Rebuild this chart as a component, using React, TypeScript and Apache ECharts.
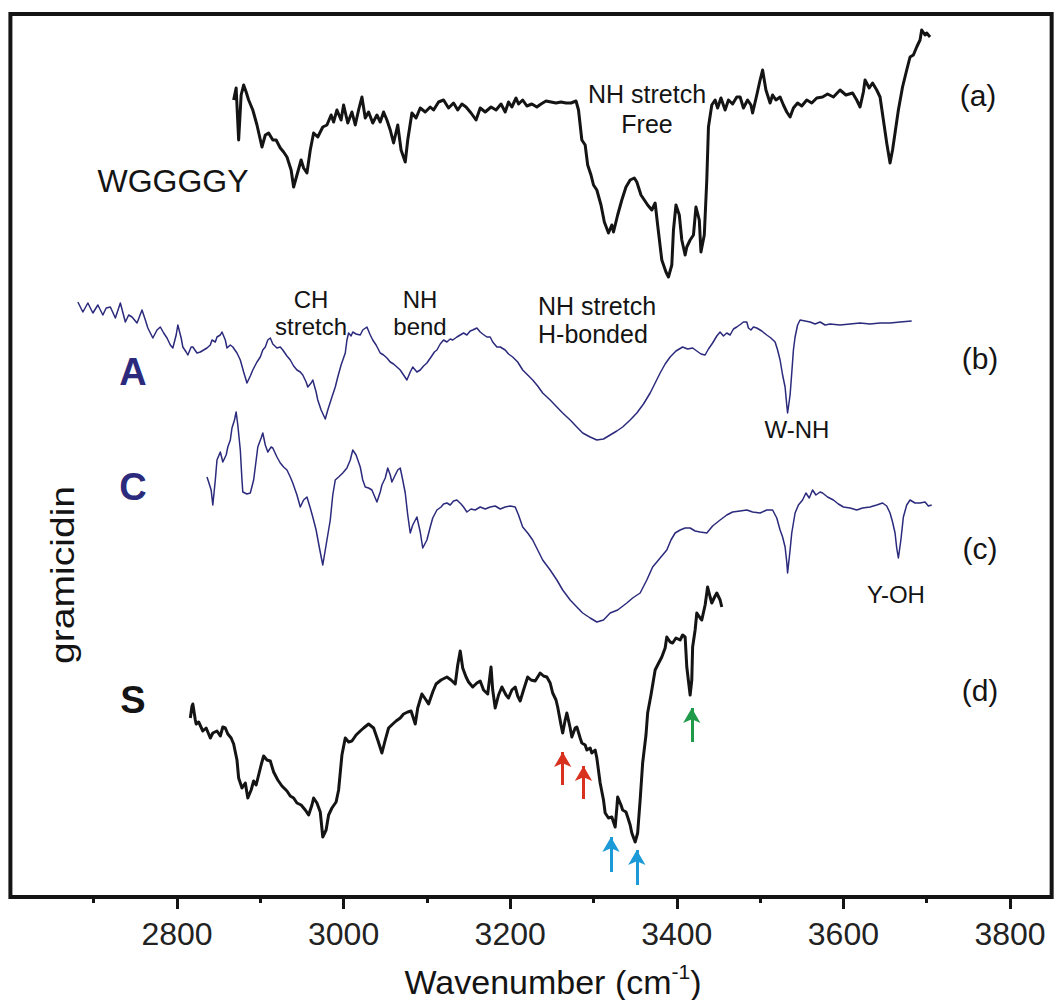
import React, { useEffect, useRef } from "react";
import * as echarts from "echarts";

// Wavenumber tick values (cm^-1)
const majorTicks = [2800, 3000, 3200, 3400, 3600, 3800];
const minorTicks = [2700, 2900, 3100, 3300, 3500, 3700];

// Spectra: [wavenumber, offset intensity (arb. units)]
const specA: [number, number][] = [
  [2868, 797], [2871, 809], [2874, 757], [2877, 802], [2880, 812], [2883, 805], [2886, 797], [2891, 787],
  [2896, 772], [2902, 750], [2906, 762], [2910, 764], [2915, 757], [2919, 757], [2924, 749], [2928, 745],
  [2932, 740], [2937, 727], [2940, 710], [2944, 722], [2949, 737], [2952, 729], [2956, 724], [2960, 747],
  [2964, 764], [2969, 760], [2975, 770], [2980, 772], [2985, 782], [2988, 775], [2992, 787], [2997, 777],
  [3000, 792], [3005, 774], [3010, 785], [3014, 772], [3018, 787], [3022, 800], [3026, 779], [3030, 785],
  [3035, 774], [3040, 782], [3044, 775], [3048, 785], [3052, 777], [3056, 767], [3060, 754], [3065, 772],
  [3069, 747], [3074, 735], [3077, 757], [3082, 784], [3087, 779], [3092, 789], [3098, 785], [3104, 790],
  [3108, 787], [3114, 795], [3120, 797], [3126, 789], [3132, 794], [3137, 787], [3142, 793], [3147, 790],
  [3153, 784], [3159, 777], [3164, 789], [3170, 785], [3177, 790], [3183, 787], [3189, 793], [3194, 785],
  [3198, 795], [3202, 790], [3207, 799], [3210, 793], [3215, 797], [3220, 791], [3226, 793], [3232, 790],
  [3237, 793], [3243, 796], [3249, 795], [3255, 794], [3261, 795], [3267, 794], [3273, 794], [3279, 796],
  [3282, 787], [3286, 757], [3290, 752], [3293, 732], [3297, 722], [3300, 712], [3304, 707], [3309, 692],
  [3313, 675], [3318, 664], [3322, 672], [3324, 665], [3329, 682], [3334, 697], [3339, 710], [3344, 717],
  [3349, 719], [3352, 715], [3357, 702], [3361, 697], [3365, 692], [3370, 687], [3374, 694], [3377, 672],
  [3382, 637], [3387, 625], [3390, 620], [3394, 632], [3396, 667], [3399, 692], [3403, 682], [3406, 657],
  [3410, 642], [3412, 650], [3416, 657], [3420, 662], [3423, 690], [3427, 677], [3429, 645], [3433, 662],
  [3436, 717], [3438, 770], [3442, 792], [3446, 797], [3449, 789], [3453, 799], [3458, 787], [3462, 797],
  [3467, 793], [3472, 800], [3476, 800], [3480, 789], [3485, 797], [3489, 792], [3491, 784], [3496, 802],
  [3500, 817], [3503, 827], [3507, 807], [3512, 794], [3515, 802], [3519, 797], [3524, 800], [3528, 792],
  [3532, 785], [3536, 780], [3540, 789], [3545, 794], [3550, 791], [3556, 797], [3562, 794], [3568, 799],
  [3575, 800], [3581, 803], [3588, 800], [3596, 807], [3603, 802], [3611, 804], [3616, 797], [3620, 790],
  [3624, 805], [3626, 817], [3631, 809], [3635, 814], [3640, 807], [3644, 800], [3648, 777], [3652, 754],
  [3656, 734], [3659, 747], [3662, 764], [3666, 787], [3671, 810], [3676, 827], [3680, 840], [3684, 842],
  [3688, 850], [3692, 857], [3694, 867], [3698, 862], [3700, 864], [3704, 860],
];

const specB: [number, number][] = [
  [2681, 595], [2687, 585], [2693, 594], [2699, 584], [2705, 592], [2711, 582], [2715, 589], [2720, 590],
  [2726, 579], [2732, 594], [2738, 575], [2742, 582], [2746, 580], [2752, 574], [2758, 587], [2762, 577],
  [2765, 569], [2771, 559], [2776, 567], [2780, 570], [2784, 564], [2788, 559], [2792, 552], [2795, 549],
  [2799, 562], [2801, 572], [2805, 559], [2807, 550], [2811, 545], [2813, 542], [2817, 550], [2819, 550],
  [2824, 544], [2828, 545], [2832, 547], [2836, 549], [2840, 552], [2842, 557], [2846, 555], [2848, 560],
  [2852, 562], [2854, 565], [2858, 557], [2860, 549], [2864, 552], [2867, 550], [2872, 544], [2876, 537],
  [2880, 525], [2884, 514], [2888, 521], [2891, 527], [2896, 535], [2900, 540], [2903, 547], [2906, 550],
  [2909, 557], [2912, 559], [2915, 553], [2920, 549], [2924, 550], [2927, 547], [2932, 541], [2936, 537],
  [2940, 531], [2944, 527], [2948, 525], [2951, 522], [2955, 515], [2957, 510], [2961, 514], [2963, 517],
  [2967, 505], [2969, 497], [2973, 487], [2978, 478], [2981, 487], [2986, 500], [2990, 510], [2993, 520],
  [2997, 532], [3002, 544], [3004, 557], [3006, 564], [3009, 561], [3011, 565], [3015, 563], [3020, 562],
  [3023, 567], [3028, 570], [3032, 562], [3035, 557], [3039, 552], [3044, 544], [3048, 542], [3052, 539],
  [3056, 535], [3060, 533], [3064, 530], [3068, 527], [3072, 522], [3076, 517], [3080, 525], [3083, 530],
  [3088, 525], [3092, 527], [3096, 531], [3100, 534], [3105, 540], [3109, 545], [3112, 547], [3116, 553],
  [3120, 557], [3124, 555], [3128, 558], [3131, 557], [3136, 560], [3140, 562], [3144, 564], [3148, 562],
  [3152, 566], [3155, 567], [3160, 569], [3164, 565], [3167, 563], [3172, 560], [3176, 560], [3179, 555],
  [3184, 550], [3188, 550], [3194, 547], [3198, 543], [3203, 540], [3209, 535], [3215, 527], [3221, 522],
  [3227, 517], [3233, 511], [3239, 504], [3248, 497], [3256, 490], [3263, 484], [3272, 477], [3280, 470],
  [3287, 464], [3296, 460], [3304, 457], [3312, 458], [3320, 462], [3328, 466], [3335, 470], [3344, 477],
  [3352, 484], [3360, 493], [3368, 504], [3374, 514], [3380, 524], [3386, 533], [3392, 540], [3399, 546],
  [3407, 550], [3413, 548], [3419, 549], [3424, 546], [3429, 543], [3434, 542], [3438, 548], [3443, 554],
  [3448, 561], [3452, 565], [3456, 561], [3460, 564], [3464, 562], [3468, 568], [3472, 570], [3477, 573],
  [3480, 575], [3484, 575], [3486, 569], [3489, 567], [3492, 570], [3496, 569], [3502, 566], [3508, 562],
  [3513, 559], [3518, 555], [3521, 547], [3524, 537], [3527, 522], [3530, 510], [3532, 492], [3533, 484],
  [3536, 502], [3538, 524], [3540, 547], [3542, 560], [3545, 572], [3548, 577], [3554, 576], [3560, 575],
  [3566, 573], [3572, 575], [3578, 572], [3584, 573], [3596, 572], [3608, 573], [3620, 574], [3632, 573],
  [3644, 574], [3656, 574], [3668, 575], [3682, 576],
];

const specC: [number, number][] = [
  [2836, 420], [2838, 415], [2841, 407], [2843, 392], [2846, 417], [2848, 437], [2852, 445], [2855, 435],
  [2859, 442], [2861, 450], [2864, 457], [2866, 469], [2869, 477], [2871, 485], [2873, 472], [2876, 447],
  [2878, 417], [2879, 405], [2884, 403], [2888, 404], [2892, 417], [2894, 430], [2897, 450], [2901, 459],
  [2903, 464], [2906, 452], [2909, 445], [2913, 450], [2915, 449], [2920, 440], [2924, 434], [2928, 430],
  [2932, 427], [2936, 420], [2939, 414], [2944, 402], [2948, 390], [2952, 397], [2956, 400], [2960, 389],
  [2963, 380], [2967, 367], [2971, 349], [2975, 332], [2979, 352], [2984, 377], [2987, 402], [2990, 417],
  [2994, 420], [2999, 424], [3004, 429], [3008, 437], [3011, 447], [3015, 442], [3020, 430], [3023, 417],
  [3026, 410], [3030, 409], [3034, 407], [3038, 399], [3040, 395], [3044, 405], [3046, 412], [3050, 419],
  [3053, 429], [3056, 422], [3058, 415], [3062, 422], [3065, 427], [3068, 429], [3071, 417], [3074, 404],
  [3077, 382], [3080, 364], [3083, 372], [3088, 380], [3092, 365], [3095, 349], [3100, 357], [3104, 370],
  [3107, 379], [3112, 387], [3117, 390], [3120, 393], [3124, 394], [3128, 392], [3132, 396], [3136, 397],
  [3141, 393], [3144, 390], [3148, 385], [3153, 388], [3158, 387], [3164, 390], [3170, 388], [3176, 390],
  [3182, 391], [3188, 388], [3194, 390], [3200, 391], [3206, 390], [3210, 382], [3215, 370], [3221, 364],
  [3227, 357], [3233, 347], [3239, 337], [3248, 327], [3256, 317], [3263, 307], [3272, 297], [3280, 290],
  [3287, 284], [3296, 279], [3304, 275], [3312, 277], [3320, 284], [3329, 287], [3340, 294], [3347, 299],
  [3356, 304], [3364, 317], [3371, 330], [3380, 339], [3388, 347], [3393, 357], [3398, 364], [3404, 367],
  [3410, 369], [3416, 369], [3422, 366], [3428, 365], [3436, 364], [3443, 371], [3452, 377], [3460, 382],
  [3467, 385], [3476, 386], [3484, 387], [3491, 385], [3500, 384], [3508, 387], [3515, 387], [3520, 379],
  [3524, 367], [3527, 360], [3530, 350], [3532, 335], [3533, 324], [3536, 347], [3538, 364], [3542, 384],
  [3546, 392], [3551, 397], [3555, 404], [3559, 399], [3563, 407], [3567, 402], [3572, 405], [3575, 404],
  [3581, 400], [3588, 397], [3594, 393], [3600, 390], [3608, 389], [3616, 387], [3623, 389], [3632, 390],
  [3640, 392], [3647, 394], [3652, 391], [3656, 384], [3659, 375], [3662, 364], [3664, 349], [3666, 339],
  [3669, 357], [3672, 380], [3676, 392], [3680, 397], [3686, 394], [3692, 394], [3698, 395], [3702, 391],
  [3706, 392],
];

const specD: [number, number][] = [
  [2816, 179], [2818, 191], [2819, 193], [2822, 177], [2823, 173], [2826, 175], [2831, 166], [2835, 169],
  [2840, 159], [2843, 164], [2848, 166], [2852, 161], [2855, 170], [2858, 169], [2861, 163], [2865, 159],
  [2868, 153], [2872, 137], [2874, 119], [2878, 109], [2882, 114], [2885, 99], [2889, 107], [2892, 116],
  [2895, 112], [2898, 122], [2901, 132], [2904, 141], [2908, 137], [2912, 136], [2916, 125], [2921, 117],
  [2926, 111], [2932, 106], [2936, 101], [2940, 99], [2944, 94], [2949, 92], [2954, 87], [2958, 82],
  [2962, 92], [2964, 99], [2968, 94], [2972, 85], [2975, 60], [2979, 67], [2982, 82], [2986, 89],
  [2991, 95], [2994, 107], [2998, 142], [3002, 159], [3006, 155], [3010, 156], [3015, 162], [3020, 166],
  [3024, 169], [3030, 173], [3036, 169], [3041, 157], [3046, 144], [3050, 157], [3054, 169], [3059, 173],
  [3063, 176], [3068, 179], [3072, 183], [3077, 185], [3081, 186], [3086, 173], [3089, 189], [3094, 203],
  [3099, 197], [3102, 193], [3107, 205], [3111, 213], [3117, 217], [3124, 220], [3129, 217], [3134, 213],
  [3137, 232], [3140, 246], [3143, 229], [3147, 220], [3150, 215], [3155, 210], [3160, 214], [3164, 216],
  [3168, 207], [3173, 203], [3177, 230], [3179, 207], [3182, 189], [3186, 202], [3190, 210], [3195, 202],
  [3198, 199], [3202, 207], [3206, 210], [3209, 201], [3212, 196], [3216, 207], [3221, 220], [3225, 217],
  [3230, 216], [3236, 224], [3240, 221], [3244, 220], [3248, 214], [3251, 204], [3255, 197], [3257, 190],
  [3261, 172], [3263, 164], [3266, 177], [3268, 184], [3272, 169], [3274, 160], [3278, 169], [3280, 170],
  [3284, 159], [3286, 154], [3290, 152], [3292, 147], [3296, 149], [3298, 144], [3302, 147], [3304, 139],
  [3308, 114], [3312, 97], [3314, 84], [3318, 79], [3322, 80], [3326, 70], [3328, 89], [3329, 100],
  [3333, 92], [3335, 87], [3339, 85], [3341, 80], [3344, 72], [3346, 64], [3350, 55], [3353, 64],
  [3356, 97], [3359, 134], [3363, 162], [3365, 184], [3369, 202], [3374, 227], [3377, 232], [3382, 240],
  [3386, 249], [3388, 260], [3392, 255], [3395, 254], [3399, 259], [3404, 257], [3407, 262], [3410, 260],
  [3412, 230], [3416, 202], [3418, 217], [3419, 250], [3422, 267], [3424, 284], [3428, 279], [3430, 277],
  [3434, 292], [3437, 310], [3440, 300], [3442, 294], [3446, 301], [3448, 304], [3452, 297], [3454, 290],
];

// Arrow markers on spectrum (d): wavenumber, tail and tip heights
const arrowW = [3263, 3288, 3321, 3352, 3418];
const arrowTail = [112, 98, 25, 12, 155];
const arrowTip = [145, 131, 60, 47, 189];
const arrowColor = ["#d8321e", "#d8321e", "#1c9ad8", "#1c9ad8", "#1f9a48"];

const FONT = '"Liberation Sans", Arial, Helvetica, sans-serif';
const NAVY = "#2b2a7c";
const INK = "#141414";

function txt(text: string, x: number, y: number, size: number, opts: any = {}) {
  return {
    type: "text",
    x,
    y,
    rotation: opts.rotation || 0,
    scaleX: opts.scaleX || 1,
    scaleY: opts.scaleY || 1,
    silent: true,
    z: 10,
    style: {
      text,
      fontSize: size,
      fontFamily: FONT,
      fontWeight: opts.bold ? "bold" : "normal",
      fill: opts.color || INK,
      align: opts.align || "center",
      verticalAlign: "middle",
      lineHeight: opts.lineHeight,
    },
  };
}

export default function App() {
  const ref = useRef<HTMLDivElement>(null);

  useEffect(() => {
    document.body.style.margin = "0";
    const chart = echarts.init(ref.current!, null, { renderer: "svg" });

    const lineSeries = (name: string, data: [number, number][], color: string, width: number) => ({
      name,
      type: "line",
      data,
      showSymbol: false,
      symbol: "none",
      smooth: false,
      silent: true,
      lineStyle: { color, width, join: "round" },
      z: 3,
    });

    const seriesD: any = lineSeries("d", specD, INK, 3);
    seriesD.markLine = {
      silent: true,
      symbol: ["none", "arrow"],
      symbolSize: [13, 15],
      label: { show: false },
      data: arrowW.map((w, i) => [
        { coord: [w, arrowTail[i]], lineStyle: { color: arrowColor[i], width: 3, type: "solid" }, itemStyle: { color: arrowColor[i] } },
        { coord: [w, arrowTip[i]] },
      ]),
    };

    chart.setOption({
      animation: false,
      backgroundColor: "#ffffff",
      grid: {
        left: 10.4,
        right: 4.35,
        top: 14,
        bottom: 103,
        show: true,
        borderColor: INK,
        borderWidth: 4,
        backgroundColor: "transparent",
      },
      xAxis: [
        {
          type: "value",
          min: 2600,
          max: 3850,
          axisLine: { show: false },
          splitLine: { show: false },
          axisTick: { show: true, customValues: majorTicks, length: 12, lineStyle: { color: INK, width: 3 } },
          axisLabel: {
            show: true,
            customValues: majorTicks,
            formatter: (v: number) => String(v),
            margin: 21,
            fontSize: 32,
            fontFamily: FONT,
            color: "#222",
          },
        },
        {
          type: "value",
          min: 2600,
          max: 3850,
          position: "bottom",
          axisLine: { show: false },
          splitLine: { show: false },
          axisTick: { show: true, customValues: minorTicks, length: 6, lineStyle: { color: INK, width: 3 } },
          axisLabel: { show: false },
        },
      ],
      yAxis: {
        type: "value",
        min: 0,
        max: 883,
        show: false,
      },
      series: [
        lineSeries("a", specA, INK, 3),
        lineSeries("b", specB, NAVY, 1.5),
        lineSeries("c", specC, NAVY, 1.5),
        seriesD,
      ],
      graphic: [
        txt("WGGGGY", 173, 181, 32),
        txt("(a)", 978, 95, 30),
        txt("NH stretch\nFree", 647, 109, 25, { lineHeight: 30 }),
        txt("CH\nstretch", 311, 313, 24, { lineHeight: 27 }),
        txt("NH\nbend", 420, 313, 24, { lineHeight: 27 }),
        txt("NH stretch\nH-bonded", 538, 320, 25, { align: "left", lineHeight: 28 }),
        txt("A", 133, 372, 38, { bold: true, color: NAVY }),
        txt("(b)", 980, 358, 30),
        txt("W-NH", 797, 429, 24),
        txt("C", 133, 487, 38, { bold: true, color: NAVY }),
        txt("(c)", 980, 548, 30),
        txt("Y-OH", 896, 594, 24),
        txt("gramicidin", 62, 575, 34, { rotation: Math.PI / 2, scaleX: 1.15 }),
        txt("S", 133, 700, 38, { bold: true }),
        txt("(d)", 980, 690, 30),
        {
          type: "text",
          x: 553,
          y: 980,
          silent: true,
          style: {
            text: "{a|Wavenumber (cm}{s|-1}{a|)}",
            align: "center",
            verticalAlign: "middle",
            fontFamily: FONT,
            rich: {
              a: { fontSize: 34, fontFamily: FONT, fill: INK, verticalAlign: "bottom" },
              s: { fontSize: 21, fontFamily: FONT, fill: INK, verticalAlign: "top", padding: [0, 0, 17, 0] },
            },
          },
        },
      ],
    });

    return () => chart.dispose();
  }, []);

  return <div ref={ref} style={{ width: 1056, height: 1000 }} />;
}
